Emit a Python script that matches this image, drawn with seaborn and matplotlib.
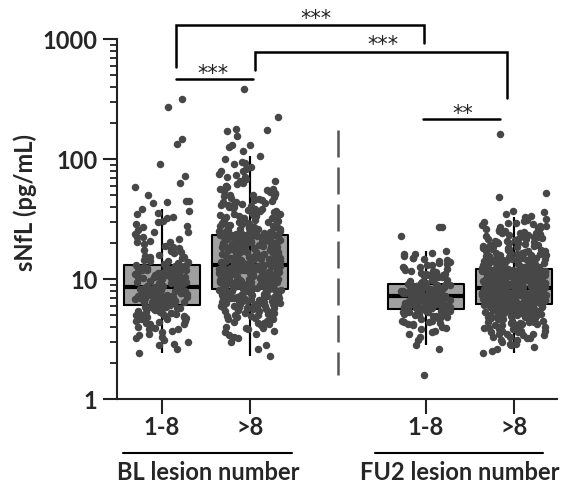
import numpy as np
import pandas as pd
import matplotlib
matplotlib.use("Agg")
import matplotlib.pyplot as plt
import matplotlib.transforms as mtransforms
from matplotlib.ticker import LogLocator, NullFormatter
import seaborn as sns

# sNfL values (pg/mL)
bl_low = [2.4, 2.6, 2.8, 2.9, 3.0, 3.1, 3.3, 3.4, 3.5, 3.6, 3.7, 3.8, 3.9, 4.0, 4.1, 4.2, 4.3, 4.4,
          4.5, 4.5, 4.6, 4.7, 4.8, 4.9, 4.9, 5.0, 5.1, 5.1, 5.2, 5.3, 5.3, 5.4, 5.5, 5.5, 5.6, 5.7,
          5.7, 5.8, 5.9, 5.9, 6.0, 6.0,
          6.1, 6.2, 6.2, 6.3, 6.3, 6.4, 6.4, 6.5, 6.5, 6.6, 6.7, 6.7, 6.8, 6.8, 6.9, 6.9, 7.0, 7.1,
          7.1, 7.2, 7.2, 7.3, 7.4, 7.4, 7.5, 7.5, 7.6, 7.7, 7.7, 7.8, 7.9, 7.9, 8.0, 8.1, 8.1, 8.2,
          8.3, 8.3, 8.4, 8.5, 8.5, 8.6,
          8.7, 8.8, 8.9, 9.0, 9.1, 9.2, 9.3, 9.4, 9.5, 9.6, 9.7, 9.8, 9.9, 10.0, 10.1, 10.2, 10.3,
          10.4, 10.5, 10.6, 10.7, 10.8, 10.9, 11.0, 11.1, 11.2, 11.3, 11.4, 11.5, 11.6, 11.7, 11.8,
          11.9, 12.0, 12.2, 12.3, 12.4, 12.6, 12.7, 12.8, 12.9, 13.0,
          13.3, 13.6, 13.9, 14.2, 14.5, 14.9, 15.2, 15.6, 16.0, 16.4, 16.8, 17.3, 17.8, 18.3, 18.9,
          19.5, 20.2, 20.9, 21.7, 22.6, 23.5, 24.5, 25.6, 27.0, 28.5, 30.5, 33.0, 35.6, 38.0,
          43, 44, 45, 45, 50, 59, 63, 72, 91, 133, 147, 270, 316,
          3.2, 3.8, 4.2, 4.6, 4.8, 5.0, 5.2, 5.4, 5.6, 5.8, 5.9, 6.0,
          6.2, 6.4, 6.6, 6.8, 7.0, 7.3, 7.5, 7.7, 7.9, 8.1, 8.3, 8.5,
          8.8, 9.2, 9.6, 10.0, 10.4, 10.8, 11.2, 11.6, 12.0, 12.4, 12.8, 13.0,
          14.0, 15.4, 17.0, 18.6, 20.4, 22.4, 24.8, 27.5, 30.0, 32.0, 34.5, 37.0]

bl_high = [2.3, 2.6, 2.8, 3.0, 3.2, 3.3, 3.5, 3.6, 3.7, 3.8, 3.9, 4.0, 4.1, 4.2, 4.3, 4.4, 4.5, 4.6,
           4.6, 4.7, 4.8, 4.9, 5.0, 5.0, 5.1, 5.2, 5.2, 5.3, 5.4, 5.4, 5.5, 5.6, 5.6, 5.7, 5.7, 5.8,
           5.9, 5.9, 6.0, 6.0, 6.1, 6.1, 6.2, 6.2, 6.3, 6.3, 6.4, 6.4, 6.5, 6.5, 6.6, 6.6, 6.7, 6.7,
           6.8, 6.8, 6.9, 6.9, 7.0, 7.0, 7.1, 7.1, 7.1, 7.2, 7.2, 7.3, 7.3, 7.3, 7.4, 7.4, 7.5, 7.5,
           7.5, 7.6, 7.6, 7.7, 7.7, 7.7, 7.8, 7.8, 7.9, 7.9, 7.9, 8.0, 8.0, 8.0, 8.1, 8.1, 8.2, 8.2,
           8.3, 8.3, 8.4, 8.4, 8.5, 8.5, 8.6, 8.6, 8.7, 8.7, 8.8, 8.8, 8.9, 8.9, 9.0, 9.0, 9.1, 9.1,
           9.2, 9.2, 9.3, 9.3, 9.4, 9.4, 9.5, 9.5, 9.6, 9.6, 9.7, 9.7, 9.8, 9.8, 9.9, 9.9, 10.0,
           10.0, 10.1, 10.2, 10.2, 10.3, 10.3, 10.4, 10.5, 10.5, 10.6, 10.6, 10.7, 10.8, 10.8, 10.9,
           11.0, 11.0, 11.1, 11.2, 11.2, 11.3, 11.4, 11.4, 11.5, 11.6, 11.6, 11.7, 11.8, 11.8, 11.9,
           12.0, 12.0, 12.1, 12.2, 12.2, 12.3, 12.3, 12.4, 12.4, 12.5, 12.5, 12.6, 12.6, 12.7, 12.7,
           12.8, 12.8, 12.9, 12.9, 13.0, 13.0, 13.0, 13.1, 13.1, 13.1,
           13.2, 13.3, 13.4, 13.5, 13.6, 13.7, 13.8, 13.9, 14.0, 14.1, 14.2, 14.3, 14.4, 14.5, 14.6,
           14.7, 14.8, 14.9, 15.0, 15.1, 15.2, 15.3, 15.4, 15.5, 15.6, 15.7, 15.8, 15.9, 16.0, 16.1,
           16.2, 16.3, 16.4, 16.5, 16.7, 16.8, 16.9, 17.0, 17.2, 17.3, 17.4, 17.5, 17.7, 17.8, 17.9,
           18.0, 18.2, 18.3, 18.4, 18.6, 18.7, 18.8, 19.0, 19.1, 19.2, 19.4, 19.5, 19.7, 19.8, 19.9,
           20.1, 20.2, 20.4, 20.5, 20.7, 20.8, 21.0, 21.1, 21.3, 21.4, 21.6, 21.7, 21.9, 22.0, 22.2,
           22.3, 22.5, 22.6, 22.8, 22.9, 23.0, 23.1, 23.1, 23.2, 23.2, 23.3, 23.3, 23.3, 23.4, 23.4,
           23.5, 23.7, 23.9, 24.1, 24.3, 24.5, 24.7, 24.9, 25.1, 25.3, 25.6, 25.8, 26.0, 26.3, 26.5,
           26.8, 27.0, 27.3, 27.6, 27.9, 28.2, 28.5, 28.8, 29.1, 29.4, 29.8, 30.1, 30.5, 30.8, 31.2,
           31.6, 32.0, 32.4, 32.8, 33.2, 33.7, 34.1, 34.6, 35.1, 35.6, 36.1, 36.6, 37.2, 37.8, 38.4,
           39.0, 39.6, 40.3, 41.0, 41.7, 42.5, 43.3, 44.1, 45.0, 45.9, 46.8, 47.8, 48.9, 50.0, 51.2,
           52.4, 53.7, 55.1, 56.6, 58.2, 59.9, 61.7, 63.6, 65.7, 67.9, 70.3, 72.9, 75.7, 78.8, 82.2,
           86.0, 90.1, 94.6, 99.5, 105.0,
           117, 125, 130, 131, 156, 172, 175, 178, 224, 383,
           3.4, 3.9, 4.3, 4.6, 4.9, 5.1, 5.3, 5.5, 5.7, 5.8, 6.0, 6.2, 6.3, 6.5, 6.6, 6.8, 6.9, 7.1,
           7.2, 7.4, 7.5, 7.7, 7.8, 8.0, 8.1,
           8.4, 8.6, 8.8, 9.0, 9.2, 9.4, 9.5, 9.7, 9.9, 10.1, 10.3, 10.5, 10.7, 10.9, 11.1, 11.3,
           11.5, 11.7, 11.9, 12.1, 12.3, 12.5, 12.7, 12.9, 13.0,
           13.4, 13.8, 14.2, 14.6, 15.0, 15.4, 15.8, 16.2, 16.6, 17.0, 17.4, 17.8, 18.2, 18.6, 19.0,
           19.4, 19.8, 20.3, 20.8, 21.3, 21.8, 22.3, 22.8, 23.1, 23.3,
           24.0, 25.0, 26.1, 27.2, 28.4, 29.6, 30.9, 32.2, 33.6, 35.0, 36.5, 38.1, 39.8, 41.6, 43.5,
           45.5, 47.6, 50.0, 53.0, 56.0, 60.0, 65.0, 71.0, 80.0, 92.0]

fu_low = [1.6, 2.6, 2.8, 3.1, 3.3, 3.5, 3.6, 3.8, 3.9, 4.0, 4.1, 4.2, 4.3, 4.4, 4.5, 4.5, 4.6, 4.7,
          4.8, 4.8, 4.9, 5.0, 5.0, 5.1, 5.1, 5.2, 5.3, 5.3, 5.4, 5.4, 5.5, 5.5, 5.6,
          5.6, 5.7, 5.7, 5.8, 5.8, 5.9, 5.9, 6.0, 6.0, 6.1, 6.1, 6.2, 6.2, 6.3, 6.3, 6.4, 6.4, 6.5,
          6.5, 6.6, 6.6, 6.7, 6.7, 6.8, 6.8, 6.9, 6.9, 6.9, 7.0, 7.0, 7.0, 7.1, 7.1,
          7.2, 7.2, 7.3, 7.3, 7.4, 7.5, 7.5, 7.6, 7.6, 7.7, 7.7, 7.8, 7.9, 7.9, 8.0, 8.0, 8.1, 8.2,
          8.2, 8.3, 8.3, 8.4, 8.5, 8.5, 8.6, 8.7, 8.7, 8.8, 8.9, 8.9, 9.0, 9.0, 9.1,
          9.2, 9.4, 9.5, 9.7, 9.8, 10.0, 10.2, 10.3, 10.5, 10.7, 10.9, 11.1, 11.3, 11.5, 11.7, 12.0,
          12.2, 12.5, 12.7, 13.0, 13.3, 13.6, 13.9, 14.3, 14.7, 15.1, 15.6, 16.1, 16.6, 17.2,
          23, 27, 27,
          3.7, 4.2, 4.4, 4.7, 4.9, 5.0, 5.2, 5.3, 5.4, 5.5,
          5.7, 5.9, 6.0, 6.2, 6.4, 6.5, 6.7, 6.8, 6.9, 7.0,
          7.2, 7.4, 7.6, 7.8, 8.0, 8.2, 8.4, 8.6, 8.8, 9.0,
          9.3, 9.8, 10.4, 11.0, 11.6, 12.3, 13.1, 14.0, 15.0, 16.3]

fu_high = [2.4, 2.5, 2.6, 2.7, 2.8, 2.9, 3.0, 3.1, 3.1, 3.2, 3.3, 3.3, 3.4, 3.4, 3.5, 3.5, 3.6, 3.6,
           3.7, 3.7, 3.8, 3.8, 3.9, 3.9, 4.0, 4.0, 4.1, 4.1, 4.2, 4.2, 4.3, 4.3, 4.4, 4.4, 4.5, 4.5,
           4.6, 4.6, 4.7, 4.7, 4.8, 4.8, 4.8, 4.9, 4.9, 5.0, 5.0, 5.0, 5.1, 5.1, 5.2, 5.2, 5.2, 5.3,
           5.3, 5.3, 5.4, 5.4, 5.4, 5.5, 5.5, 5.5, 5.6, 5.6, 5.6, 5.7, 5.7, 5.7, 5.7, 5.8, 5.8, 5.8,
           5.8, 5.9, 5.9, 5.9, 5.9, 6.0, 6.0, 6.0, 6.0, 6.0, 6.1, 6.1, 6.1, 6.1, 6.1, 6.1, 6.1, 6.1,
           6.2, 6.2, 6.2, 6.2, 6.3, 6.3, 6.3, 6.3, 6.4, 6.4, 6.4, 6.4, 6.5, 6.5, 6.5, 6.5, 6.6, 6.6,
           6.6, 6.6, 6.7, 6.7, 6.7, 6.7, 6.8, 6.8, 6.8, 6.8, 6.9, 6.9, 6.9, 6.9, 7.0, 7.0, 7.0, 7.0,
           7.1, 7.1, 7.1, 7.1, 7.2, 7.2, 7.2, 7.2, 7.3, 7.3, 7.3, 7.3, 7.4, 7.4, 7.4, 7.4, 7.5, 7.5,
           7.5, 7.5, 7.6, 7.6, 7.6, 7.6, 7.7, 7.7, 7.7, 7.7, 7.8, 7.8, 7.8, 7.8, 7.9, 7.9, 7.9, 7.9,
           8.0, 8.0, 8.0, 8.0, 8.1, 8.1, 8.1, 8.1, 8.2, 8.2, 8.2, 8.2, 8.3, 8.3, 8.3, 8.4, 8.4, 8.4,
           8.5, 8.5, 8.5, 8.6, 8.6, 8.7, 8.7, 8.7, 8.8, 8.8, 8.9, 8.9, 8.9, 9.0, 9.0, 9.1, 9.1, 9.1,
           9.2, 9.2, 9.3, 9.3, 9.3, 9.4, 9.4, 9.5, 9.5, 9.5, 9.6, 9.6, 9.7, 9.7, 9.8, 9.8, 9.9, 9.9,
           10.0, 10.0, 10.1, 10.1, 10.2, 10.2, 10.3, 10.3, 10.4, 10.4, 10.5, 10.5, 10.6, 10.6, 10.7,
           10.7, 10.8, 10.8, 10.9, 10.9, 11.0, 11.0, 11.1, 11.1, 11.2, 11.2, 11.3, 11.3, 11.4, 11.4,
           11.5, 11.5, 11.5, 11.6, 11.6, 11.6, 11.7, 11.7, 11.7, 11.8, 11.8, 11.8, 11.9, 11.9, 11.9,
           11.9, 12.0, 12.0, 12.0, 12.0, 12.1, 12.1, 12.1, 12.1,
           12.2, 12.3, 12.4, 12.5, 12.6, 12.7, 12.8, 12.9, 13.0, 13.1, 13.2, 13.3, 13.4, 13.5, 13.6,
           13.7, 13.8, 13.9, 14.0, 14.2, 14.3, 14.4, 14.5, 14.7, 14.8, 14.9, 15.1, 15.2, 15.4, 15.5,
           15.7, 15.8, 16.0, 16.1, 16.3, 16.5, 16.6, 16.8, 17.0, 17.2, 17.4, 17.6, 17.8, 18.0, 18.2,
           18.4, 18.6, 18.8, 19.0, 19.3, 19.5, 19.8, 20.0, 20.3, 20.5, 20.8, 21.1, 21.4, 21.7, 22.0,
           22.3, 22.6, 22.9, 23.3, 23.6, 24.0, 24.4, 24.8, 25.2, 25.6, 26.0, 26.5, 27.0, 27.5, 28.0,
           28.6, 29.2, 29.8, 30.4, 31.0, 31.7, 32.4, 33.0, 33.5,
           35, 36, 37, 48, 52, 162,
           2.9, 3.2, 3.5, 3.7, 3.9, 4.1, 4.3, 4.4, 4.6, 4.7, 4.9, 5.0, 5.1, 5.2, 5.3, 5.4, 5.5, 5.6,
           5.7, 5.8, 5.8, 5.9, 6.0, 6.0, 6.1,
           6.2, 6.3, 6.4, 6.5, 6.6, 6.7, 6.8, 6.9, 7.0, 7.1, 7.2, 7.3, 7.4, 7.5, 7.6, 7.7, 7.8, 7.9,
           8.0, 8.1, 8.2, 8.3, 8.3, 8.4, 8.4,
           8.5, 8.7, 8.8, 9.0, 9.2, 9.3, 9.5, 9.7, 9.8, 10.0, 10.2, 10.3, 10.5, 10.7, 10.8, 11.0,
           11.2, 11.3, 11.5, 11.6, 11.8, 11.9, 12.0, 12.1, 12.1,
           12.4, 12.8, 13.2, 13.6, 14.0, 14.5, 15.0, 15.5, 16.0, 16.6, 17.2, 17.8, 18.4, 19.1, 19.8,
           20.6, 21.4, 22.2, 23.1, 24.1, 25.2, 26.4, 27.8, 29.4, 31.4]

groups = ["BL 1-8", "BL >8", "FU2 1-8", "FU2 >8"]
order = ["BL 1-8", "BL >8", "", "FU2 1-8", "FU2 >8"]
tick_labels = ["1-8", ">8", "1-8", ">8"]
group_titles = ["BL lesion number", "FU2 lesion number"]

df = pd.concat([pd.DataFrame({"group": g, "sNfL": v})
                for g, v in zip(groups, [bl_low, bl_high, fu_low, fu_high])], ignore_index=True)

sns.set_style("ticks")
plt.rcParams["font.family"] = ["Lato", "DejaVu Sans"]

fig = plt.figure(figsize=(5.68, 4.84), dpi=100)
ax = fig.add_axes([0.206, 0.1756, 0.7746, 0.7438])
ax.set_yscale("log")

dot_color = "#474747"
box_fill = "#a0a0a0"
jitters = {"BL 1-8": 0.31, "BL >8": 0.35, "FU2 1-8": 0.28, "FU2 >8": 0.37}

# gray box fill underneath the dots
sns.boxplot(data=df, x="group", y="sNfL", order=order, color=box_fill, saturation=1,
            width=0.86, linewidth=0, showfliers=False, showcaps=False, ax=ax)

np.random.seed(7)
for g in groups:
    sns.stripplot(data=df[df["group"] == g], x="group", y="sNfL", order=order,
                  color=dot_color, size=5.4, jitter=jitters[g], linewidth=0, ax=ax)

# outlines, medians and whiskers on top
sns.boxplot(data=df, x="group", y="sNfL", order=order, fill=False, color="black",
            width=0.86, linewidth=1.5, showfliers=False, showcaps=False,
            medianprops={"linewidth": 3}, ax=ax)
sns.boxplot(data=df, x="group", y="sNfL", order=order, fill=False, color="black",
            width=0.001, linewidth=1.5, showfliers=False, showcaps=False, ax=ax)

ax.set_xlim(-0.51, 4.49)
ax.set_ylim(1, 1000)
ax.set_xticks([0, 1, 3, 4], tick_labels, fontweight="bold", fontsize=17)
ax.set_yticks([1, 10, 100, 1000], ["1", "10", "100", "1000"], fontweight="bold", fontsize=17)
ax.yaxis.set_minor_locator(LogLocator(base=10, subs=np.arange(2, 10)))
ax.yaxis.set_minor_formatter(NullFormatter())
ax.set_xlabel("")
ax.set_ylabel("")
ax.tick_params(axis="y", which="major", length=10, width=1.5, pad=4, color="#222222")
ax.tick_params(axis="y", which="minor", length=5, width=1.3, color="#222222")
ax.tick_params(axis="x", length=10.5, width=1.5, pad=2, color="#222222")
for side in ["top", "right"]:
    ax.spines[side].set_visible(False)
for side in ["left", "bottom"]:
    ax.spines[side].set_linewidth(1.5)
    ax.spines[side].set_color("#222222")

ax.text(-0.209, 0.547, "sNfL (pg/mL)", transform=ax.transAxes, rotation=90,
        ha="center", va="center", fontsize=17, fontweight="bold")

# dashed divider between BL and FU2
ax.plot([2, 2], [175, 1.58], color="#555555", lw=1.8, dashes=(10.8, 4))

# group labels under the ticks
trans = mtransforms.blended_transform_factory(ax.transData, ax.transAxes)
for (x0, x1), title in zip([(-0.44, 1.48), (2.42, 4.33)], group_titles):
    ax.plot([x0, x1], [-0.15, -0.15], color="black", lw=1.5, transform=trans, clip_on=False)
    ax.text((x0 + x1) / 2 + 0.01, -0.203, title, transform=trans, ha="center", va="center",
            fontsize=17, fontweight="bold")


def bracket(x0, x1, y_top, y_left, y_right, stars, sx, sy):
    ax.plot([x0, x0, x1, x1], [y_left, y_top, y_top, y_right], color="black", lw=1.8,
            clip_on=False, solid_joinstyle="miter")
    ax.text(sx, sy, stars, ha="center", va="center", fontsize=15, clip_on=False,
            family="DejaVu Sans", color="#222222")


bracket(0.16, 1.03, 464, 464, 464, "***", 0.58, 511)
bracket(0.16, 2.98, 1309, 584, 926, "***", 1.75, 1468)
bracket(1.06, 3.92, 779, 552, 322, "***", 2.51, 891)
bracket(2.97, 3.84, 215, 215, 215, "**", 3.42, 237)

fig.savefig("out.png", dpi=100)
